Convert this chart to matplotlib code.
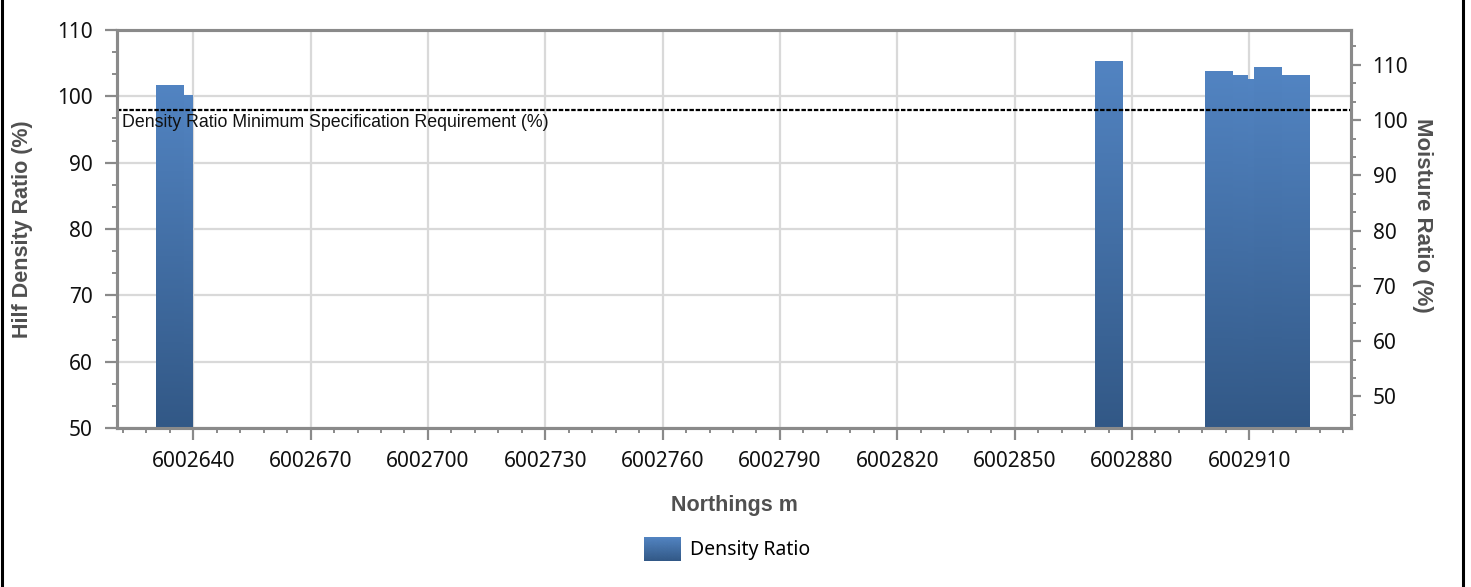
import numpy as np
import matplotlib
matplotlib.use("Agg")
import matplotlib.pyplot as plt
from matplotlib.ticker import MultipleLocator, AutoMinorLocator
from matplotlib.colors import LinearSegmentedColormap
from matplotlib.legend_handler import HandlerBase
from matplotlib.image import BboxImage
from matplotlib.transforms import Bbox, TransformedBbox, blended_transform_factory
from matplotlib.patches import Rectangle
from matplotlib.lines import Line2D

# data
northings = [6002634.0, 6002636.4, 6002874.0, 6002902.2, 6002906.0, 6002907.6, 6002914.7, 6002921.8]
density_ratio = [101.6, 100.2, 105.3, 103.8, 103.2, 102.6, 104.4, 103.2]
bar_width = 7.1
spec_min = 98.0
spec_label = "Density Ratio Minimum Specification Requirement (%)"
left_ticks = [50, 60, 70, 80, 90, 100, 110]
right_ticks = [50, 60, 70, 80, 90, 100, 110]

plt.rcParams['font.family'] = ['Noto Sans', 'DejaVu Sans']

TOP_C = "#5284c2"
BOT_C = "#325886"
grad_cmap = LinearSegmentedColormap.from_list("bar_grad", [BOT_C, TOP_C])
SPINE_C = "#8a8a8a"
TITLE_C = "#505050"

W, H = 1471, 587
fig = plt.figure(figsize=(W / 100, H / 100), dpi=100)
ax = fig.add_axes([117 / W, 1 - 428 / H, (1351 - 117) / W, (428 - 30) / H])

ymin = 50
ax.set_xlim(6002620.5, 6002936.0)
ax.set_ylim(ymin, 110)

# bars with vertical gradient; earlier bars sit on top
grad = np.linspace(1, 0, 256).reshape(-1, 1)
n = len(northings)
bars = ax.bar(northings, [v - ymin for v in density_ratio], width=bar_width, bottom=ymin,
              facecolor="none", edgecolor="none")
for i, b in enumerate(bars):
    x0 = b.get_x()
    x1 = x0 + b.get_width()
    top = b.get_y() + b.get_height()
    b.set_zorder(3 + n - i)
    ax.imshow(grad, cmap=grad_cmap, aspect="auto", extent=[x0, x1, ymin, top],
              zorder=3 + n - i, interpolation="bicubic")
ax.set_xlim(6002620.5, 6002936.0)
ax.set_ylim(ymin, 110)
ax.set_aspect("auto")

# spec line
ax.axhline(spec_min, color="black", lw=1.6, linestyle=(0, (2.0, 0.8)), zorder=20)
ax.annotate(spec_label, xy=(0, spec_min), xycoords=blended_transform_factory(ax.transAxes, ax.transData),
            xytext=(3.5, -3.5), textcoords="offset points", ha="left", va="top",
            fontsize=12.8, family="Liberation Sans", color="#111111", zorder=21)

# grid
ax.xaxis.set_major_locator(MultipleLocator(30))
ax.xaxis.set_minor_locator(MultipleLocator(6))
ax.set_yticks(left_ticks)
ax.yaxis.set_minor_locator(AutoMinorLocator(3))
ax.grid(True, which="major", color="#d9d9d9", lw=1.6, zorder=0)
ax.set_axisbelow(True)
ax.ticklabel_format(axis="x", useOffset=False, style="plain")

for s in ax.spines.values():
    s.set_color(SPINE_C)
    s.set_linewidth(2.2)
ax.tick_params(axis="both", which="major", length=8.5, width=1.6, color=SPINE_C,
               labelsize=15, labelcolor="#111111")
ax.tick_params(axis="both", which="minor", length=3.5, width=1.4, color=SPINE_C)
ax.tick_params(axis="y", which="major", pad=9)
ax.tick_params(axis="x", which="major", pad=8)

ax.set_ylabel("Hilf Density Ratio (%)", fontsize=15.5, fontweight="bold",
              family="Liberation Sans", color=TITLE_C)
ax.yaxis.set_label_coords(-0.068, 0.5)
ax.set_xlabel("Northings m", fontsize=15.5, fontweight="bold",
              family="Liberation Sans", color=TITLE_C)
ax.xaxis.set_label_coords(0.5, -0.168)

# secondary axis (moisture, no data shown)
ax2 = ax.twinx()
ax2.set_ylim(44.3, 116.3)
ax2.set_yticks(right_ticks)
ax2.yaxis.set_minor_locator(AutoMinorLocator(3))
for s in ax2.spines.values():
    s.set_color(SPINE_C)
    s.set_linewidth(2.2)
ax2.tick_params(axis="y", which="major", length=7.5, width=1.6, color=SPINE_C,
                labelsize=15, labelcolor="#111111", pad=8)
ax2.tick_params(axis="y", which="minor", length=3.5, width=1.4, color=SPINE_C)
ax2.set_ylabel("Moisture Ratio (%)", fontsize=16, fontweight="bold", rotation=270,
               family="Liberation Sans", color=TITLE_C)
ax2.yaxis.set_label_coords(1.0665, 0.535)


# gradient patch for the legend
class GradientHandler(HandlerBase):
    def create_artists(self, legend, orig_handle, xdescent, ydescent, width, height, fontsize, trans):
        bb = Bbox.from_bounds(-xdescent, -ydescent, width, height)
        img = BboxImage(TransformedBbox(bb, trans), cmap=grad_cmap, interpolation="bicubic")
        img.set_data(grad)
        return [img]


handle = Rectangle((0, 0), 1, 1, facecolor=TOP_C)
fig.legend([handle], ["Density Ratio"], handler_map={Rectangle: GradientHandler()},
           loc="center", bbox_to_anchor=(727 / W, 1 - 549 / H), frameon=False,
           fontsize=14, handlelength=1.9, handleheight=1.45, handletextpad=0.5)

# outer frame lines (left/right)
fig.add_artist(Line2D([1.5 / W, 1.5 / W], [0, 1], color="black", lw=2.2, transform=fig.transFigure))
fig.add_artist(Line2D([1462.5 / W, 1462.5 / W], [0, 1], color="black", lw=2.2, transform=fig.transFigure))

fig.savefig("out.png", dpi=100)
